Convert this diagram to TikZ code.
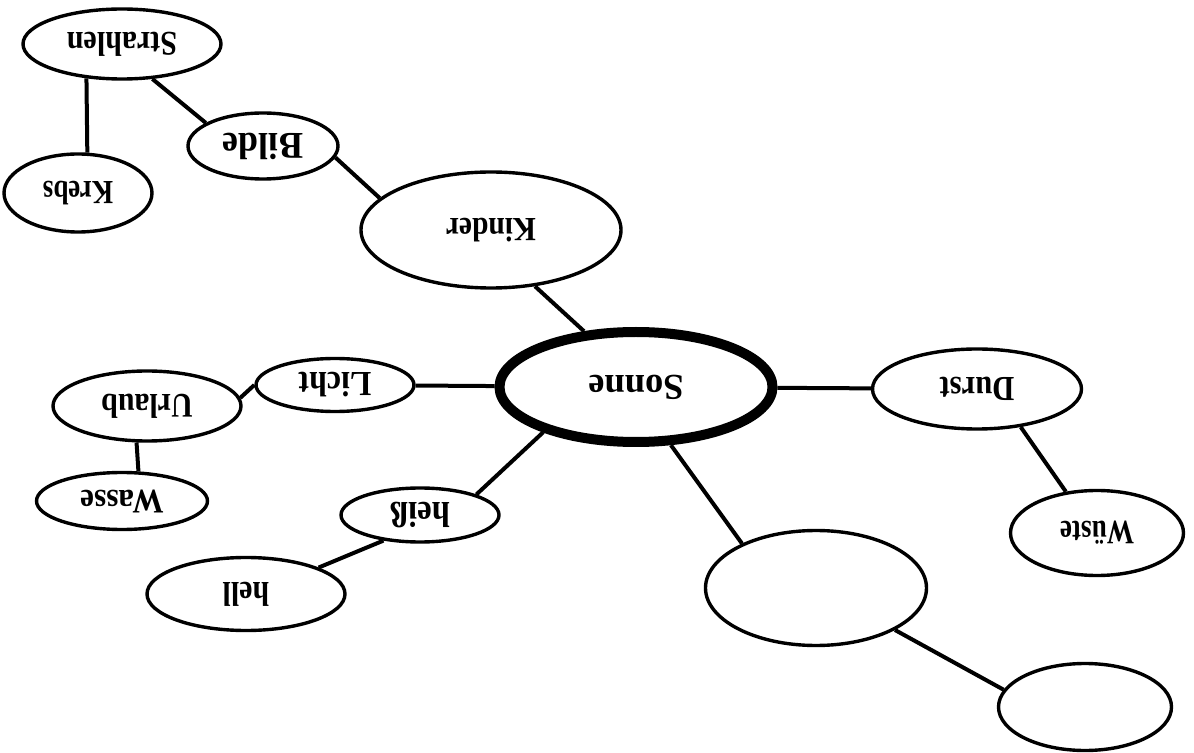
\documentclass[tikz,border=0pt]{standalone}
\usepackage{fontspec}
\setmainfont{Liberation Serif}
\usepackage{graphicx}
\usetikzlibrary{shapes.geometric}
\newcommand{\flipword}[2][1.15]{\rotatebox[origin=c]{180}{\scalebox{1}[#1]{#2}}}

\begin{document}
\begin{tikzpicture}[x=0.5pt, y=-0.5pt, line width=2pt,
    main/.style = {draw, ellipse, inner sep=0pt, line width=1.7pt, font=\bfseries\fontsize{15}{18}\selectfont},
    hub/.style = {main, line width=5pt, font=\bfseries\fontsize{18.2}{22}\selectfont},
    fs/.style = {font=\bfseries\fontsize{#1}{#1}\selectfont}]
            \useasboundingbox (0,0) rectangle (1194,753);
            \node[main, minimum width=99pt, minimum height=35pt] (strahlen) at (122,44) {\flipword{Strahlen}};
            \node[main, fs=18, minimum width=75pt, minimum height=33pt] (bilde) at (263,146) {\flipword[1.05]{Bilde}};
            \node[main, fs=13.5, minimum width=74pt, minimum height=39pt] (krebs) at (78,193) {\flipword[1.25]{Krebs}};
            \node[main, fs=14.7, minimum width=130pt, minimum height=58pt] (kinder) at (491,230) {\flipword{Kinder}};
            \node[hub, minimum width=136.5pt, minimum height=55pt] (sonne) at (636,387) {\flipword[1]{Sonne}};
            \node[main, fs=16, minimum width=79pt, minimum height=26.5pt] (licht) at (335,385) {\flipword[1.1]{Licht}};
            \node[main, minimum width=94pt, minimum height=35pt] (urlaub) at (147,406) {\flipword{Urlaub}};
            \node[main, fs=15.6, minimum width=85.5pt, minimum height=28.5pt] (wasse) at (122,501) {\flipword[1.1]{Wasse}};
            \node[main, fs=16.4, minimum width=79pt, minimum height=27pt] (heiss) at (420,515) {\flipword[1.1]{heiß}};
            \node[main, minimum width=99pt, minimum height=36.5pt] (hell) at (246,594) {\flipword{hell}};
            \node[main, fs=15.3, minimum width=104.5pt, minimum height=40pt] (durst) at (977,389) {\flipword{Durst}};
            \node[main, fs=13.6, minimum width=86.5pt, minimum height=42.5pt] (wueste) at (1097,533) {\flipword[1.25]{Wüste}};
            \node[main, minimum width=110.5pt, minimum height=57.5pt] (leerA) at (816,588) {};
            \node[main, minimum width=86.5pt, minimum height=43.5pt] (leerB) at (1085,707) {};
            \draw  (krebs.77) edge (strahlen.224);
            \draw  (strahlen.-49) edge (bilde.158);
            \draw  (bilde.-9) edge (kinder.164);
            \draw  (kinder.-52) edge (sonne.133);
            \draw  (licht) edge (sonne);
            \draw  (urlaub.5) edge (licht.180);
            \draw  (urlaub.254) edge (wasse.61);
            \draw  (heiss.20) edge (sonne.206);
            \draw  (hell.20) edge (heiss.215);
            \draw  (sonne) edge (durst);
            \draw  (durst.-41) edge (wueste.127);
            \draw  (sonne.-59) edge (leerA.149);
            \draw  (leerA.-28) edge (leerB.168);
        \end{tikzpicture}
\end{document}
